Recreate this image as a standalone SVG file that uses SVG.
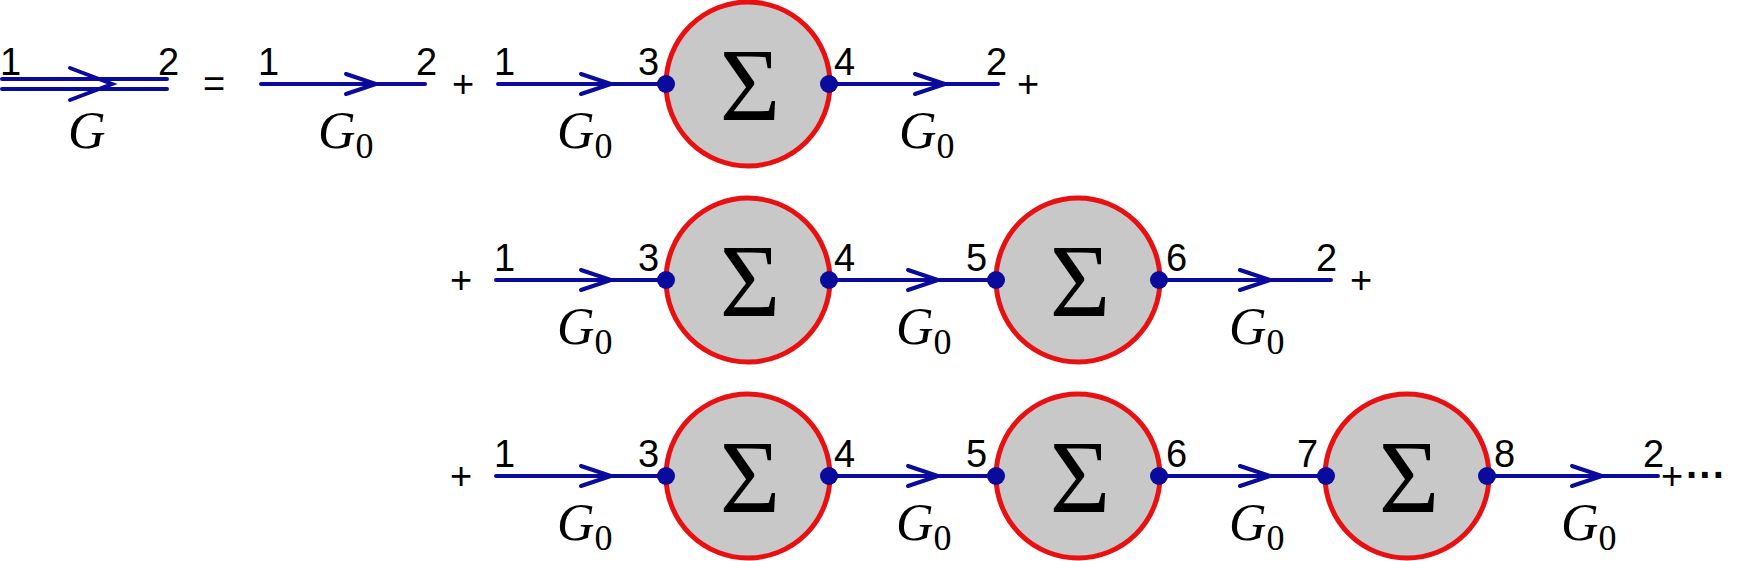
<svg xmlns="http://www.w3.org/2000/svg" xmlns:xlink="http://www.w3.org/1999/xlink" width="1747" height="561" viewBox="0 0 1747 561">
<style>
.ln{stroke:#0a0a9c;stroke-width:4;fill:none;stroke-linecap:round}
.ch{stroke:#0a0a9c;stroke-width:4;fill:none;stroke-linecap:round;stroke-linejoin:miter}
.dot{fill:#0a0a9c}
.se{fill:#c8c8c8;stroke:#e81010;stroke-width:5}
.n{font-family:"Liberation Sans",Arial,sans-serif;font-size:38px;fill:#000}
.op{font-family:"Liberation Sans",Arial,sans-serif;font-size:38px;fill:#000}
.g{font-family:"Liberation Serif","Times New Roman",serif;font-size:52px;font-style:italic;fill:#000}
.s{font-family:"Liberation Serif","Times New Roman",serif;font-size:36px;font-style:normal}
.sig{font-family:"Liberation Serif","Times New Roman",serif;font-size:104px;fill:#000;text-anchor:middle}
</style>
<defs>
<path id="chev" d="M-30,-10 L0,0 L-30,10" class="ch"/>
</defs>
<g id="connectors">
<line class="ln" x1="2" y1="79" x2="167" y2="79"/>
<line class="ln" x1="2" y1="89" x2="167" y2="89"/>
<path class="ch" d="M70,68 L112,84 L70,100"/>
<line class="ln" x1="261" y1="84" x2="425" y2="84"/><use href="#chev" x="376" y="84"/>
<line class="ln" x1="498" y1="84" x2="666" y2="84"/><use href="#chev" x="611" y="84"/>
<line class="ln" x1="829" y1="84" x2="998" y2="84"/><use href="#chev" x="945" y="84"/>
<line class="ln" x1="496" y1="280" x2="666" y2="280"/><use href="#chev" x="611" y="280"/>
<line class="ln" x1="829" y1="280" x2="996" y2="280"/><use href="#chev" x="938" y="280"/>
<line class="ln" x1="1159" y1="280" x2="1331" y2="280"/><use href="#chev" x="1270" y="280"/>
<line class="ln" x1="496" y1="476" x2="666" y2="476"/><use href="#chev" x="611" y="476"/>
<line class="ln" x1="829" y1="476" x2="996" y2="476"/><use href="#chev" x="938" y="476"/>
<line class="ln" x1="1159" y1="476" x2="1326" y2="476"/><use href="#chev" x="1270" y="476"/>
<line class="ln" x1="1487" y1="476" x2="1658" y2="476"/><use href="#chev" x="1602" y="476"/>
</g>
<g id="sigma1"><circle class="se" cx="748" cy="84" r="82"/><text class="sig" x="750" y="120">Σ</text></g>
<g id="sigma2"><circle class="se" cx="748" cy="280" r="82"/><text class="sig" x="750" y="316">Σ</text></g>
<g id="sigma3"><circle class="se" cx="1078" cy="280" r="82"/><text class="sig" x="1080" y="316">Σ</text></g>
<g id="sigma4"><circle class="se" cx="748" cy="476" r="82"/><text class="sig" x="750" y="512">Σ</text></g>
<g id="sigma5"><circle class="se" cx="1078" cy="476" r="82"/><text class="sig" x="1080" y="512">Σ</text></g>
<g id="sigma6"><circle class="se" cx="1407" cy="476" r="82"/><text class="sig" x="1409" y="512">Σ</text></g>
<g id="dots">
<circle class="dot" cx="666" cy="84" r="9"/><circle class="dot" cx="829" cy="84" r="9"/>
<circle class="dot" cx="666" cy="280" r="9"/><circle class="dot" cx="829" cy="280" r="9"/>
<circle class="dot" cx="996" cy="280" r="9"/><circle class="dot" cx="1159" cy="280" r="9"/>
<circle class="dot" cx="666" cy="476" r="9"/><circle class="dot" cx="829" cy="476" r="9"/>
<circle class="dot" cx="996" cy="476" r="9"/><circle class="dot" cx="1159" cy="476" r="9"/>
<circle class="dot" cx="1326" cy="476" r="9"/><circle class="dot" cx="1487" cy="476" r="9"/>
</g>
<g id="labels">
<text class="n" x="0" y="75">1</text><text class="n" x="158" y="75">2</text>
<text class="g" x="68" y="148">G</text>
<text class="op" x="203" y="97">=</text>
<text class="n" x="258" y="75">1</text><text class="n" x="416" y="75">2</text>
<text class="g" x="318" y="148">G<tspan class="s" dy="10">0</tspan></text>
<text class="op" x="452" y="97">+</text>
<text class="n" x="494" y="75">1</text><text class="n" x="638" y="75">3</text><text class="n" x="834" y="75">4</text><text class="n" x="986" y="75">2</text>
<text class="g" x="557" y="148">G<tspan class="s" dy="10">0</tspan></text>
<text class="g" x="899" y="148">G<tspan class="s" dy="10">0</tspan></text>
<text class="op" x="1017" y="97">+</text>

<text class="op" x="450" y="293">+</text>
<text class="n" x="494" y="271">1</text><text class="n" x="638" y="271">3</text><text class="n" x="834" y="271">4</text>
<text class="n" x="966" y="271">5</text><text class="n" x="1166" y="271">6</text><text class="n" x="1316" y="271">2</text>
<text class="g" x="557" y="344">G<tspan class="s" dy="10">0</tspan></text>
<text class="g" x="896" y="344">G<tspan class="s" dy="10">0</tspan></text>
<text class="g" x="1229" y="344">G<tspan class="s" dy="10">0</tspan></text>
<text class="op" x="1350" y="293">+</text>

<text class="op" x="450" y="489">+</text>
<text class="n" x="494" y="467">1</text><text class="n" x="638" y="467">3</text><text class="n" x="834" y="467">4</text>
<text class="n" x="966" y="467">5</text><text class="n" x="1166" y="467">6</text><text class="n" x="1297" y="467">7</text>
<text class="n" x="1494" y="467">8</text><text class="n" x="1643" y="467">2</text>
<text class="g" x="557" y="540">G<tspan class="s" dy="10">0</tspan></text>
<text class="g" x="896" y="540">G<tspan class="s" dy="10">0</tspan></text>
<text class="g" x="1229" y="540">G<tspan class="s" dy="10">0</tspan></text>
<text class="g" x="1561" y="540">G<tspan class="s" dy="10">0</tspan></text>
<text class="op" x="1661" y="489">+</text>
<text class="op" x="1686" y="489" style="font-size:40px;font-weight:bold">···</text>
</g>
</svg>
